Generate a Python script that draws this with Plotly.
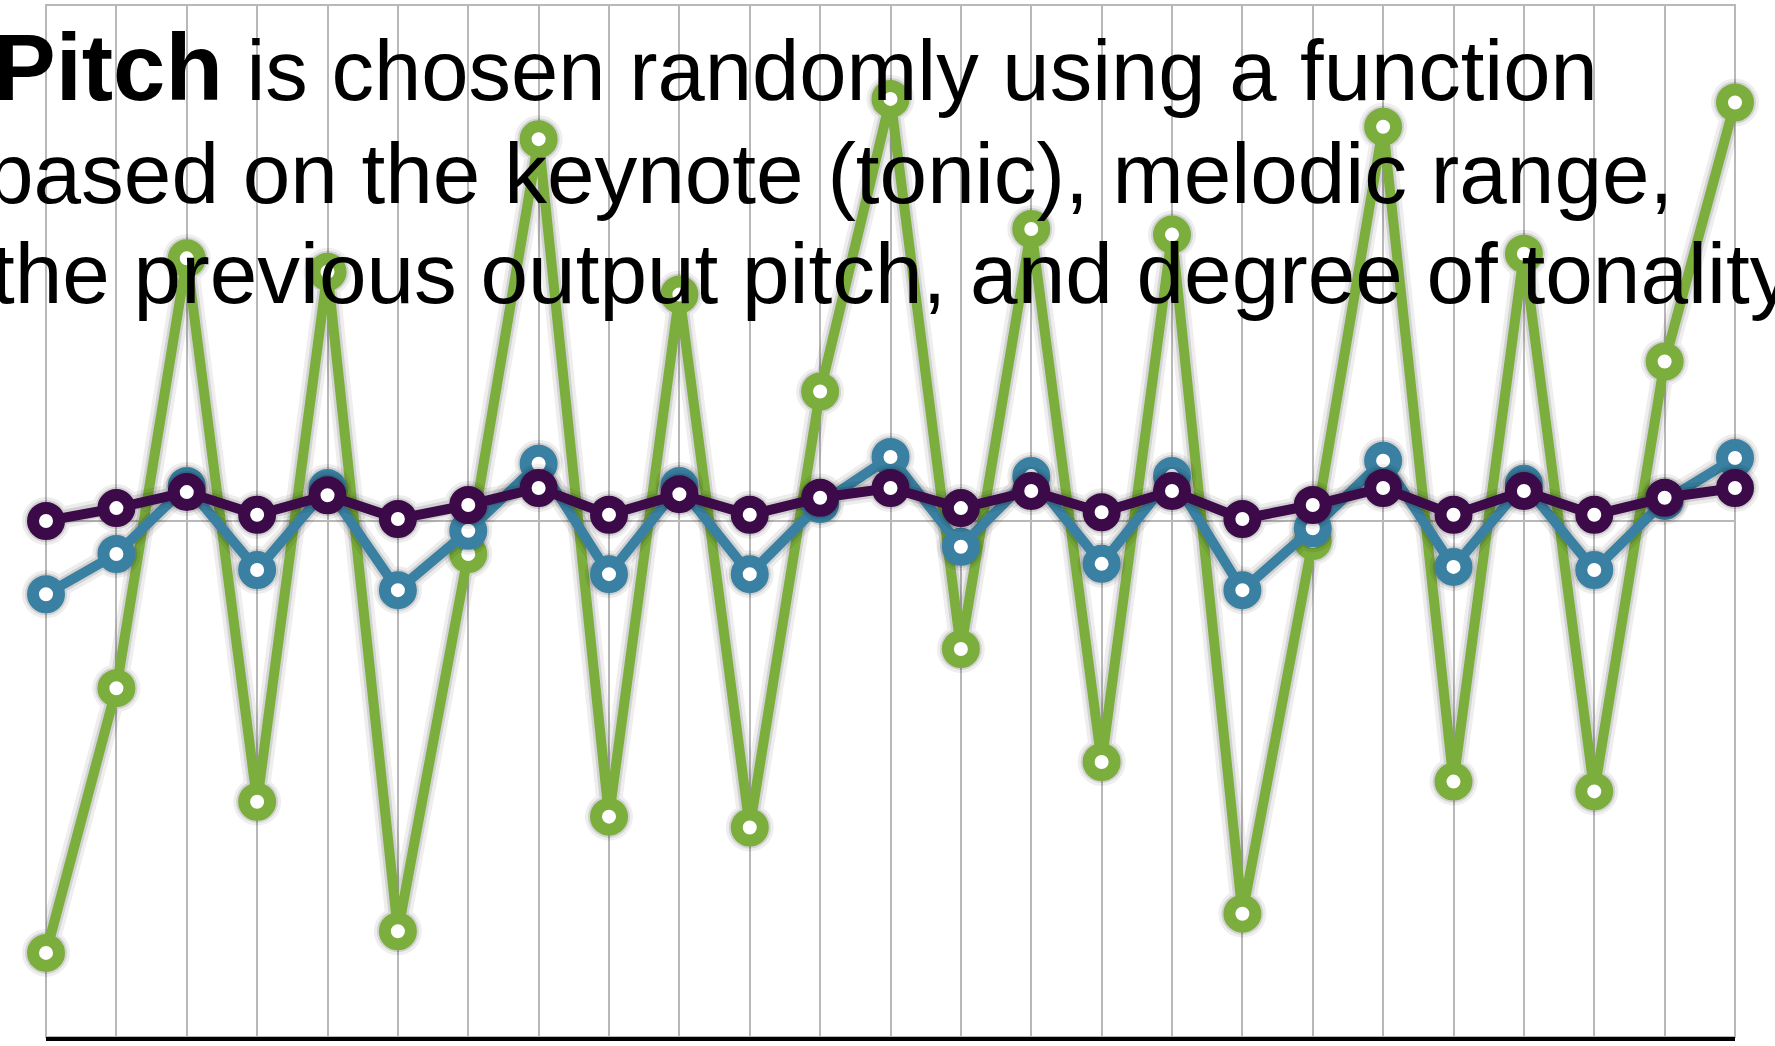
import plotly.graph_objects as go

# ---- data ----
steps = list(range(1, 26))
green_pitch = [-83.7, -32.4, 50.9, -54.4, 48.3, -79.5, -6.4, 74.0, -57.3, 43.9,
               -59.4, 25.1, 81.8, -24.8, 56.6, -46.7, 55.5, -76.1, -3.9, 76.4,
               -50.5, 51.8, -52.4, 30.9, 81.1]
blue_pitch = [-14.2, -6.4, 6.8, -9.5, 6.4, -13.4, -1.9, 11.1, -10.3, 6.8,
              -10.3, 3.3, 12.4, -5.0, 8.7, -8.3, 8.7, -13.4, -1.4, 11.7,
              -8.9, 7.2, -9.5, 3.9, 12.2]
purple_pitch = [0.0, 2.5, 5.6, 1.2, 5.0, 0.4, 3.1, 6.4, 1.2, 5.2,
                1.2, 4.5, 6.4, 2.5, 5.8, 1.7, 5.8, 0.4, 3.1, 6.4,
                1.2, 5.8, 1.2, 4.5, 6.4]
title_bold = "Pitch"
title_lines = [" is chosen randomly using a function",
               "based on the keynote (tonic), melodic range,",
               "the previous output pitch, and degree of tonality"]

# ---- layout constants ----
W, H = 1775, 1046
ML, MR, MT, MB = 46, 40, 5, 9
PW, PH = W - ML - MR, H - MT - MB
GRID = "#B8B8B8"


def px_x(px):
    return (px - ML) / PW


def px_y(py):
    return (H - MB - py) / PH


fig = go.Figure()
series = [(green_pitch, "#7BAE3C"), (blue_pitch, "#3A80A2"), (purple_pitch, "#3C0A48")]
for vals, col in series:
    # soft shadow
    fig.add_trace(go.Scatter(
        x=steps, y=vals, mode="lines+markers",
        line=dict(color="black", width=22),
        marker=dict(size=48, color="black"),
        opacity=0.07, hoverinfo="skip", showlegend=False, cliponaxis=False))
    fig.add_trace(go.Scatter(
        x=steps, y=vals, mode="lines+markers",
        line=dict(color="black", width=15),
        marker=dict(size=42, color="black"),
        opacity=0.12, hoverinfo="skip", showlegend=False, cliponaxis=False))
    fig.add_trace(go.Scatter(
        x=steps, y=vals, mode="lines+markers",
        line=dict(color=col, width=10),
        marker=dict(size=26, color="white", line=dict(color=col, width=12)),
        showlegend=False, cliponaxis=False))

font_family = "Liberation Sans, Arial, Helvetica, sans-serif"
texts = [
    '<span style="font-size:94px"><b>' + title_bold + '</b></span>' + title_lines[0],
    title_lines[1],
    title_lines[2],
]
specs = [(-9, 13, 85), (-16, 124, 85.5), (-11.4, 224, 85.5)]
for t, (bx, by, fs) in zip(texts, specs):
    fig.add_annotation(
        text=t, xref="paper", yref="paper", x=px_x(bx), y=px_y(by),
        xanchor="left", yanchor="top", showarrow=False, align="left",
        font=dict(family=font_family, size=fs, color="black"))

# plot-area frame (top / left / right edges coincide with outer grid lines)
fig.add_shape(type="rect", xref="paper", yref="paper", x0=0, x1=1, y0=0, y1=1,
              line=dict(color=GRID, width=2), layer="below")

fig.update_layout(
    width=W, height=H,
    margin=dict(l=ML, r=MR, t=MT, b=MB, pad=0),
    paper_bgcolor="white", plot_bgcolor="white",
    xaxis=dict(range=[1, 25], tick0=1, dtick=1, showgrid=True,
               gridcolor=GRID, gridwidth=2, showticklabels=False,
               ticks="", zeroline=False, showline=True, linecolor="black",
               linewidth=3.5, fixedrange=True),
    yaxis=dict(range=[-100, 100], tick0=0, dtick=100, showgrid=True,
               gridcolor=GRID, gridwidth=2, showticklabels=False,
               ticks="", zeroline=False, showline=False, fixedrange=True),
    showlegend=False,
)

fig.write_html("out.html", config={"displayModeBar": False},
               post_script="document.body.style.margin='0';document.body.style.overflow='hidden';")
